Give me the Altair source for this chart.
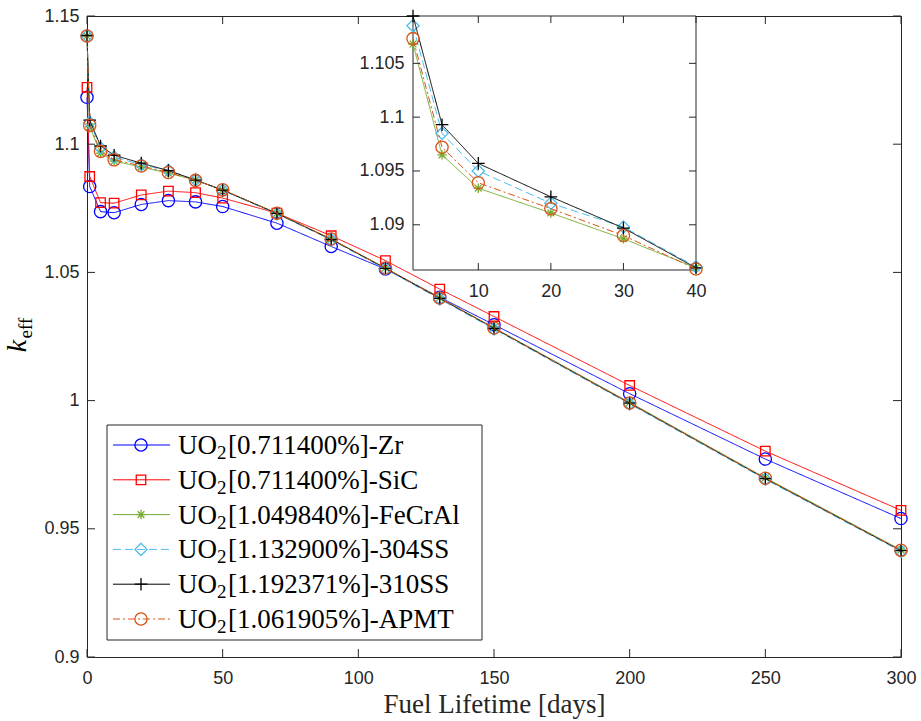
import altair as alt
import pandas as pd

# ---------------- data ----------------
days = [0, 1, 5, 10, 20, 30, 40, 50, 70, 90, 110, 130, 150, 200, 250, 300]
k_zr = [1.1183, 1.0835, 1.0737, 1.0733, 1.0765, 1.0780, 1.0775, 1.0757, 1.0692,
        1.0601, 1.0513, 1.0403, 1.0296, 1.0027, 0.9772, 0.9540]
k_sic = [1.1222, 1.0874, 1.0772, 1.0770, 1.0802, 1.0817, 1.0811, 1.0790, 1.0731,
         1.0643, 1.0546, 1.0435, 1.0328, 1.0059, 0.9803, 0.9572]
k_fecral = [1.1422, 1.1068, 1.0965, 1.0934, 1.0911, 1.0887, 1.0860, 1.0822, 1.0731,
            1.0630, 1.0517, 1.0401, 1.0284, 0.9993, 0.9699, 0.9418]
k_304ss = [1.1422, 1.1085, 1.0985, 1.0950, 1.0920, 1.0898, 1.0861, 1.0820, 1.0728,
           1.0627, 1.0513, 1.0396, 1.0279, 0.9987, 0.9693, 0.9412]
k_310ss = [1.1424, 1.1094, 1.0993, 1.0957, 1.0926, 1.0897, 1.0860, 1.0821, 1.0730,
           1.0629, 1.0516, 1.0399, 1.0282, 0.9990, 0.9696, 0.9415]
k_apmt = [1.1422, 1.1073, 1.0972, 1.0939, 1.0915, 1.0890, 1.0859, 1.0822, 1.0731,
          1.0630, 1.0517, 1.0400, 1.0283, 0.9991, 0.9697, 0.9416]

series_names = ["Zr", "SiC", "FeCrAl", "304SS", "310SS", "APMT"]
enrichments = ["0.711400", "0.711400", "1.049840", "1.132900", "1.192371", "1.061905"]
series_values = [k_zr, k_sic, k_fecral, k_304ss, k_310ss, k_apmt]

x_ticks = [0, 50, 100, 150, 200, 250, 300]
y_ticks = [0.9, 0.95, 1.0, 1.05, 1.1, 1.15]
inset_x_ticks = [10, 20, 30, 40]
inset_y_ticks = [1.09, 1.095, 1.1, 1.105]

# ---------------- styles ----------------
colors = ["#0000FF", "#FF0000", "#77AC30", "#4DBEEE", "#000000", "#D95319"]
dashes = [[1, 0], [1, 0], [1, 0], [8, 4], [1, 0], [7, 3, 2, 3]]
PLUS = "M-1,0H1M0,-1V1"
STAR = "M-1,0H1M0,-1V1M-0.71,-0.71L0.71,0.71M-0.71,0.71L0.71,-0.71"
shapes = ["circle", "square", STAR, "diamond", PLUS, "circle"]
sizes = [150, 90, 90, 150, 160, 150]
AX = "#262626"

W, H = 814, 641
TICK = 8

rows = []
for s, vals in zip(series_names, series_values):
    for d, v in zip(days, vals):
        rows.append({"day": d, "k": v, "series": s})
df = pd.DataFrame(rows)
df_inset = df[(df["day"] >= 1) & (df["day"] <= 40)]

# ---------------- main plot ----------------
x_main = alt.Scale(domain=[0, 300], nice=False, zero=False)
y_main = alt.Scale(domain=[0.9, 1.15], nice=False, zero=False)
ax_x = alt.Axis(values=x_ticks, title="Fuel Lifetime [days]", ticks=False,
                labelPadding=12, titlePadding=4, orient="bottom")
ax_y = alt.Axis(values=y_ticks, title="", ticks=False, labelPadding=8,
                format="~g", orient="left")

main_layers = []
for i, s in enumerate(series_names):
    base = alt.Chart(df).transform_filter(alt.datum.series == s)
    enc = dict(x=alt.X("day:Q", scale=x_main, axis=ax_x),
               y=alt.Y("k:Q", scale=y_main, axis=ax_y))
    main_layers.append(base.mark_line(color=colors[i], strokeWidth=1,
                                      strokeDash=dashes[i]).encode(**enc))
    main_layers.append(base.mark_point(shape=shapes[i], size=sizes[i], color=colors[i],
                                       filled=False, strokeWidth=1.3, opacity=1).encode(**enc))

xt = pd.DataFrame({"v": x_ticks})
yt = pd.DataFrame({"v": y_ticks})
main_layers += [
    alt.Chart(xt).mark_rule(color=AX, strokeWidth=1).encode(
        x=alt.X("v:Q", scale=x_main, axis=ax_x), y=alt.value(H), y2=alt.value(H - TICK)),
    alt.Chart(xt).mark_rule(color=AX, strokeWidth=1).encode(
        x=alt.X("v:Q", scale=x_main, axis=ax_x), y=alt.value(0), y2=alt.value(TICK)),
    alt.Chart(yt).mark_rule(color=AX, strokeWidth=1).encode(
        y=alt.Y("v:Q", scale=y_main, axis=ax_y), x=alt.value(0), x2=alt.value(TICK)),
    alt.Chart(yt).mark_rule(color=AX, strokeWidth=1).encode(
        y=alt.Y("v:Q", scale=y_main, axis=ax_y), x=alt.value(W), x2=alt.value(W - TICK)),
]
main = alt.layer(*main_layers)

# ---------------- legend + y title ----------------
one = pd.DataFrame({"a": [0]})
leg_df = pd.DataFrame({
    "idx": list(range(6)),
    "series": series_names,
    "pre": ["UO"] * 6,
    "sub": ["2"] * 6,
    "rest": [f"[{e}%]-{s}" for e, s in zip(enrichments, series_names)],
})
leg_y = alt.Scale(type="point", domain=list(range(6)), range=[429, 603], padding=0)

leg_layers = [
    alt.Chart(one).mark_rect(fill="white", stroke=AX, strokeWidth=1).encode(
        x=alt.value(20), x2=alt.value(395), y=alt.value(409), y2=alt.value(624)),
]
for i, s in enumerate(series_names):
    b = alt.Chart(leg_df).transform_filter(alt.datum.series == s)
    leg_layers.append(b.mark_rule(color=colors[i], strokeWidth=1, strokeDash=dashes[i]).encode(
        y=alt.Y("idx:O", scale=leg_y, axis=None), x=alt.value(26), x2=alt.value(83)))
    leg_layers.append(b.mark_point(shape=shapes[i], size=sizes[i], color=colors[i],
                                   filled=False, strokeWidth=1.3, opacity=1).encode(
        y=alt.Y("idx:O", scale=leg_y, axis=None), x=alt.value(54)))
leg_layers += [
    alt.Chart(leg_df).mark_text(font="Liberation Serif", fontSize=27, align="left",
                                baseline="alphabetic", dy=9, color="black").encode(
        y=alt.Y("idx:O", scale=leg_y, axis=None), x=alt.value(91), text="pre:N"),
    alt.Chart(leg_df).mark_text(font="Liberation Serif", fontSize=19, align="left",
                                baseline="alphabetic", dy=14, color="black").encode(
        y=alt.Y("idx:O", scale=leg_y, axis=None), x=alt.value(130), text="sub:N"),
    alt.Chart(leg_df).mark_text(font="Liberation Serif", fontSize=27, align="left",
                                baseline="alphabetic", dy=9, color="black").encode(
        y=alt.Y("idx:O", scale=leg_y, axis=None), x=alt.value(141), text="rest:N"),
    alt.Chart(one).mark_text(text="k", font="Liberation Serif", fontStyle="italic",
                             fontSize=28, angle=270, align="center", baseline="middle",
                             color="black").encode(x=alt.value(-69), y=alt.value(330)),
    alt.Chart(one).mark_text(text="eff", font="Liberation Serif", fontSize=19,
                             angle=270, align="center", baseline="middle",
                             color="black").encode(x=alt.value(-61), y=alt.value(312)),
]
legend = alt.layer(*leg_layers)

# ---------------- inset ----------------
IX0, IX1, IY1 = 326, 609, 254
x_in = alt.Scale(domain=[1, 40], range=[IX0, IX1], nice=False, zero=False)
y_in = alt.Scale(domain=[1.0858, 1.1094], range=[IY1, 0], nice=False, zero=False)
ax_xi = alt.Axis(values=inset_x_ticks, title="", ticks=False, labelPadding=12,
                 orient="bottom", offset=-(H - IY1))
ax_yi = alt.Axis(values=inset_y_ticks, title="", ticks=False, labelPadding=9,
                 format="~g", orient="left", offset=-IX0)

in_layers = [
    alt.Chart(one).mark_rect(fill="white", stroke=AX, strokeWidth=1).encode(
        x=alt.value(IX0), x2=alt.value(IX1), y=alt.value(0), y2=alt.value(IY1)),
]
for i, s in enumerate(series_names[2:], start=2):
    base = alt.Chart(df_inset).transform_filter(alt.datum.series == s)
    enc = dict(x=alt.X("day:Q", scale=x_in, axis=ax_xi),
               y=alt.Y("k:Q", scale=y_in, axis=ax_yi))
    in_layers.append(base.mark_line(color=colors[i], strokeWidth=1,
                                    strokeDash=dashes[i]).encode(**enc))
    in_layers.append(base.mark_point(shape=shapes[i], size=sizes[i], color=colors[i],
                                     filled=False, strokeWidth=1.3, opacity=1).encode(**enc))
ixt = pd.DataFrame({"v": inset_x_ticks})
iyt = pd.DataFrame({"v": inset_y_ticks})
in_layers += [
    alt.Chart(ixt).mark_rule(color=AX, strokeWidth=1).encode(
        x=alt.X("v:Q", scale=x_in, axis=ax_xi), y=alt.value(IY1), y2=alt.value(IY1 - 7)),
    alt.Chart(ixt).mark_rule(color=AX, strokeWidth=1).encode(
        x=alt.X("v:Q", scale=x_in, axis=ax_xi), y=alt.value(0), y2=alt.value(7)),
    alt.Chart(iyt).mark_rule(color=AX, strokeWidth=1).encode(
        y=alt.Y("v:Q", scale=y_in, axis=ax_yi), x=alt.value(IX0), x2=alt.value(IX0 + 7)),
    alt.Chart(iyt).mark_rule(color=AX, strokeWidth=1).encode(
        y=alt.Y("v:Q", scale=y_in, axis=ax_yi), x=alt.value(IX1), x2=alt.value(IX1 - 7)),
]
inset = alt.layer(*in_layers)

chart = alt.layer(main, legend, inset).resolve_scale(
    x="independent", y="independent"
).properties(
    width=W, height=H,
    autosize=alt.AutoSizeParams(type="none"),
    padding={"left": 87, "top": 16, "right": 20, "bottom": 64},
    background="white",
).configure_view(
    stroke=AX, strokeWidth=1
).configure_axis(
    labelFont="Liberation Sans", labelFontSize=18, labelColor=AX,
    titleFont="Liberation Serif", titleFontSize=27, titleFontWeight="normal",
    titleColor=AX, grid=False, domain=False, labelFlush=False, labelOverlap=False,
)

chart.save("out.html", embed_options={"renderer": "svg", "actions": False})
